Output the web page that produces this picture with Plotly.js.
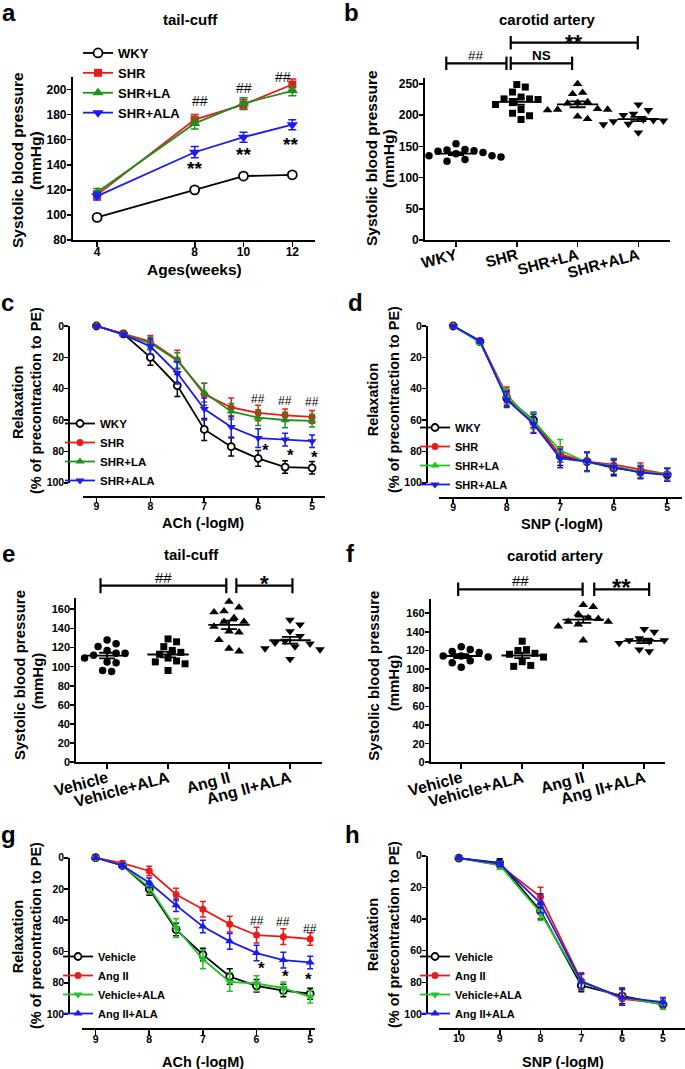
<!DOCTYPE html>
<html><head><meta charset="utf-8">
<script src="https://cdn.plot.ly/plotly-3.0.1.min.js"></script>
<style>html,body{margin:0;padding:0;background:#fff}#chart{width:685px;height:1069px}</style>
</head><body><div id="chart"></div>
<script>
// ================= DATA =================
// a: tail-cuff SBP by age
const agesA = [4, 8, 10, 12];
const wkyA = [98, 120, 131, 132];
const wkyAErr = [2.5, 2, 2, 2];
const shrA = [116, 176, 188, 204];
const shrAErr = [3, 4, 4, 4.5];
const shrLaA = [118, 173, 189, 199];
const shrLaAErr = [3, 4.5, 4.5, 4];
const shrAlaA = [115, 150, 162, 172];
const shrAlaAErr = [3, 4.5, 4, 4];
const yTicksA = [80, 100, 120, 140, 160, 180, 200];

// b: carotid artery SBP (individual animals)
const catsB = ['WKY', 'SHR', 'SHR+LA', 'SHR+ALA'];
const wkyB = [154, 145, 144, 143, 142, 140, 138, 135, 135, 133, 133, 129, 126];
const shrB = [249, 245, 237, 229, 226, 226, 225, 220, 217, 209, 203, 199, 193];
const shrLaB = [250, 236, 234, 221, 220, 219, 210, 209, 209, 208, 198, 194];
const shrAlaB = [217, 208, 202, 200, 193, 192, 191, 190, 188, 186, 185, 172];
const yTicksB = [0, 50, 100, 150, 200, 250];

// c: ACh relaxation, SHR groups
const dosesC = [9, 8.5, 8, 7.5, 7, 6.5, 6, 5.5, 5];
const wkyC = [0, 5, 20, 38, 66, 77, 84.5, 90, 90.5];
const wkyCErr = [1, 1, 5, 7, 7, 6, 5, 4, 4];
const shrC = [0, 5, 10, 21.5, 43.5, 52, 55.5, 57, 58];
const shrCErr = [1, 1, 4, 6, 7, 6, 5, 4, 4];
const shrLaC = [0, 5.5, 11, 22, 42.5, 54.5, 58.5, 60, 60.5];
const shrLaCErr = [1, 1, 4, 5, 6, 5, 5, 5, 4];
const shrAlaC = [0, 5.5, 13, 30, 53, 64.5, 71.5, 72.5, 73.5];
const shrAlaCErr = [1, 1, 5, 7, 7, 7, 6, 4, 4];

// d: SNP relaxation, SHR groups
const dosesD = [9, 8.5, 8, 7.5, 7, 6.5, 6, 5.5, 5];
const wkyD = [0, 10, 46, 60, 83, 86.5, 90.5, 93, 95];
const wkyDErr = [1, 1.5, 5, 5, 6, 6, 5, 4, 4];
const shrD = [0, 9.5, 44, 62, 82, 86.5, 88.5, 91.5, 94.5];
const shrDErr = [1, 1.5, 5, 6, 5, 6, 4, 4, 4];
const shrLaD = [0, 10.5, 45, 60.5, 79.5, 87, 89.5, 93, 94.5];
const shrLaDErr = [1, 1.5, 5, 5, 7, 6, 5, 4, 4];
const shrAlaD = [0, 9.5, 47, 62.5, 84.5, 86.5, 90, 93.5, 95];
const shrAlaDErr = [1, 1.5, 5, 6, 6, 6, 5, 4, 4];
const xTicksLog = [9, 8, 7, 6, 5];
const yTicksRel = [0, 20, 40, 60, 80, 100];

// e: tail-cuff SBP, Ang II model
const catsE = ['Vehicle', 'Vehicle+ALA', 'Ang II', 'Ang II+ALA'];
const vehE = [128, 124, 121, 117, 114, 114, 112, 109, 105, 104, 96, 95];
const vehAlaE = [129, 126, 121, 117, 115, 113, 109, 106, 105, 103, 96];
const angE = [168, 162, 158, 157, 151, 147, 147, 142, 137, 136, 128, 119, 116];
const angAlaE = [149, 144, 137, 132, 127, 125, 124, 121, 119, 118, 108];
const yTicksEF = [0, 20, 40, 60, 80, 100, 120, 140, 160];

// f: carotid artery SBP, Ang II model
const vehF = [124, 121, 119, 118, 114, 114, 113, 109, 107, 102];
const vehAlaF = [130, 121, 120, 117, 116, 113, 108, 104, 103];
const angF = [169, 167, 159, 155, 154, 151, 151, 148, 146, 131];
const angAlaF = [143, 140, 133, 131, 131, 130, 128, 127, 121, 119];

// g: ACh relaxation, Ang II model
const dosesG = [9, 8.5, 8, 7.5, 7, 6.5, 6, 5.5, 5];
const vehG = [0, 5, 20, 46, 62, 76, 82, 85, 87];
const vehGErr = [1, 1.5, 4, 4, 4, 5, 4, 4, 3.5];
const angG = [0, 3.5, 8.5, 23.5, 33, 42.5, 49.5, 50.5, 52];
const angGErr = [1, 1.5, 3, 4, 5, 5, 5, 5, 4];
const vehAlaG = [0, 5, 19, 45, 65, 79.5, 80.5, 83.5, 89];
const vehAlaGErr = [1, 1.5, 4, 6, 6, 6, 5, 4, 4];
const angAlaG = [0, 5, 16, 30.5, 44, 53.5, 61, 65.5, 67];
const angAlaGErr = [1, 1.5, 3, 4, 4, 5, 5, 5, 4];

// h: SNP relaxation, Ang II model
const dosesH = [10, 9, 8, 7, 6, 5];
const vehH = [1.5, 4.5, 35, 82, 88.5, 94];
const vehHErr = [1, 2.5, 5, 4, 5, 3];
const angH = [1.5, 6, 26, 79, 90.5, 93.5];
const angHErr = [1, 2.5, 6, 5, 4, 3];
const vehAlaH = [1.5, 6, 36, 80, 89.5, 94];
const vehAlaHErr = [1, 2.5, 5, 5, 5, 3];
const angAlaH = [1.5, 5, 30, 79.5, 89.5, 92.5];
const angAlaHErr = [1, 2, 6, 5, 5, 3];
const xTicksH = [10, 9, 8, 7, 6, 5];

// ================= LAYOUT HELPERS =================
const W = 685, H = 1069;
const fx = p => p / W, fy = p => 1 - p / H;
const F = 'Liberation Sans, Arial, Helvetica, sans-serif';
const BLACK = '#000000', RED = '#ee1a1a', GREEN_A = '#1f8f1f', GREEN = '#22c322', BLUE = '#1a1af2';

function ax(extra, fs) {
  return Object.assign({
    showline: true, linecolor: BLACK, linewidth: 1.8, mirror: false,
    ticks: 'outside', ticklen: 5, tickwidth: 1.6, tickcolor: BLACK,
    showgrid: false, zeroline: false, fixedrange: true, tickmode: 'array',
    tickfont: {family: F, size: fs || 12, color: BLACK, weight: 'bold'}
  }, extra);
}

function lineTrace(x, y, err, name, color, symbol, xa, ya, legend, o) {
  const open = symbol === 'open';
  return {
    type: 'scatter', mode: 'lines+markers', x: x, y: y, name: name,
    xaxis: xa, yaxis: ya, legend: legend, showlegend: true, cliponaxis: false,
    line: {color: color, width: o.lw},
    marker: {symbol: open ? 'circle' : symbol, size: o.ms, color: open ? '#ffffff' : color,
             line: {color: color, width: open ? 1.8 : 0}},
    error_y: {type: 'data', array: err, visible: true, color: color, thickness: 1.5, width: o.ew}
  };
}

function swarm(vals, pyv, d) {
  const order = vals.map((_, i) => i).sort((a, b) => vals[b] - vals[a]);
  const placed = [], off = vals.map(() => 0);
  order.forEach(i => {
    const y = vals[i] * pyv;
    for (let k = 0; k < 80; k++) {
      const s = k === 0 ? 0 : (k % 2 ? 1 : -1) * Math.ceil(k / 2);
      const x = s * d * 0.5;
      if (placed.every(p => (p.x - x) * (p.x - x) + (p.y - y) * (p.y - y) >= d * d)) {
        off[i] = x; placed.push({x: x, y: y}); break;
      }
    }
  });
  return off;
}
const mean = a => a.reduce((s, v) => s + v, 0) / a.length;
const sem = a => { const m = mean(a); return Math.sqrt(a.reduce((s, v) => s + (v - m) * (v - m), 0) / (a.length - 1)) / Math.sqrt(a.length); };

function dotPanel(groups, xa, ya, pyv, pxc) {
  const syms = ['circle', 'square', 'triangle-up', 'triangle-down'];
  const sizes = [7.5, 7, 8.5, 8.5];
  const out = [];
  groups.forEach((vals, i) => {
    const off = swarm(vals, pyv, sizes[i] + 1.5);
    out.push({type: 'scatter', mode: 'markers', x: vals.map((v, j) => i + off[j] / pxc), y: vals,
      xaxis: xa, yaxis: ya, showlegend: false, cliponaxis: false, hoverinfo: 'skip',
      marker: {symbol: syms[i], size: sizes[i], color: BLACK}});
    const m = mean(vals), s = sem(vals);
    out.push({type: 'scatter', mode: 'lines', x: [i - 0.34, i + 0.34], y: [m, m], xaxis: xa, yaxis: ya,
      showlegend: false, cliponaxis: false, line: {color: BLACK, width: 1.8}, hoverinfo: 'skip'});
    out.push({type: 'scatter', mode: 'markers', x: [i], y: [m], xaxis: xa, yaxis: ya, showlegend: false,
      cliponaxis: false, marker: {size: 1, color: 'rgba(0,0,0,0)'}, hoverinfo: 'skip',
      error_y: {type: 'data', array: [s], visible: true, color: BLACK, thickness: 1.8, width: 8}});
  });
  return out;
}

// ================= GEOMETRY (px) =================
const G = {
  a: {x: [72.7, 315], y: [77, 240], xr: [3, 12.93], yr: [80, 210]},
  b: {x: [425, 670], y: [78.3, 240], xr: [-0.51, 3.52], yr: [0, 259]},
  c: {x: [83, 325], y: [326, 482.7], xr: [9.25, 4.76], yr: [100, 0], xpos: 496, ypos: 68.3},
  d: {x: [439.3, 681.7], y: [326, 482.7], xr: [9.26, 4.73], yr: [100, 0], xpos: 496.7, ypos: 426},
  e: {x: [76, 321.7], y: [598.3, 762.3], xr: [-0.51, 3.52], yr: [0, 171.5]},
  f: {x: [430.7, 665], y: [599.3, 762.3], xr: [-0.5, 3.34], yr: [0, 175]},
  g: {x: [81.7, 315], y: [857.7, 1014], xr: [9.26, 4.91], yr: [100, 0], xpos: 1028.3, ypos: 68.3},
  h: {x: [439.3, 685], y: [855.7, 1014], xr: [10.48, 4.46], yr: [100, 0], xpos: 1027.7, ypos: 426}
};
const dom = g => ({x: [fx(g.x[0]), fx(g.x[1])], y: [fy(g.y[1]), fy(g.y[0])]});
const pyv = g => (g.y[1] - g.y[0]) / Math.abs(g.yr[1] - g.yr[0]);
const pxc = g => (g.x[1] - g.x[0]) / Math.abs(g.xr[1] - g.xr[0]);

// ================= TRACES =================
let traces = [];
const oA = {lw: 1.8, ms: 9, ew: 4};
traces.push(lineTrace(agesA, wkyA, wkyAErr, 'WKY', BLACK, 'open', 'x', 'y', 'legend', oA));
traces.push(lineTrace(agesA, shrA, shrAErr, 'SHR', RED, 'square', 'x', 'y', 'legend', Object.assign({}, oA, {ms: 8})));
traces.push(lineTrace(agesA, shrLaA, shrLaAErr, 'SHR+LA', GREEN_A, 'triangle-up', 'x', 'y', 'legend', Object.assign({}, oA, {ms: 10})));
traces.push(lineTrace(agesA, shrAlaA, shrAlaAErr, 'SHR+ALA', BLUE, 'triangle-down', 'x', 'y', 'legend', Object.assign({}, oA, {ms: 10})));

traces = traces.concat(dotPanel([wkyB, shrB, shrLaB, shrAlaB], 'x2', 'y2', pyv(G.b), pxc(G.b)));

const oC = {lw: 1.8, ms: 7, ew: 3};
traces.push(lineTrace(dosesC, wkyC, wkyCErr, 'WKY', BLACK, 'open', 'x3', 'y3', 'legend2', oC));
traces.push(lineTrace(dosesC, shrC, shrCErr, 'SHR', RED, 'circle', 'x3', 'y3', 'legend2', oC));
traces.push(lineTrace(dosesC, shrLaC, shrLaCErr, 'SHR+LA', GREEN_A, 'triangle-up', 'x3', 'y3', 'legend2', Object.assign({}, oC, {ms: 8})));
traces.push(lineTrace(dosesC, shrAlaC, shrAlaCErr, 'SHR+ALA', BLUE, 'triangle-down', 'x3', 'y3', 'legend2', Object.assign({}, oC, {ms: 8})));

traces.push(lineTrace(dosesD, wkyD, wkyDErr, 'WKY', BLACK, 'open', 'x4', 'y4', 'legend3', oC));
traces.push(lineTrace(dosesD, shrD, shrDErr, 'SHR', RED, 'circle', 'x4', 'y4', 'legend3', oC));
traces.push(lineTrace(dosesD, shrLaD, shrLaDErr, 'SHR+LA', GREEN, 'triangle-up', 'x4', 'y4', 'legend3', Object.assign({}, oC, {ms: 8})));
traces.push(lineTrace(dosesD, shrAlaD, shrAlaDErr, 'SHR+ALA', BLUE, 'triangle-down', 'x4', 'y4', 'legend3', Object.assign({}, oC, {ms: 8})));

traces = traces.concat(dotPanel([vehE, vehAlaE, angE, angAlaE], 'x5', 'y5', pyv(G.e), pxc(G.e)));
traces = traces.concat(dotPanel([vehF, vehAlaF, angF, angAlaF], 'x6', 'y6', pyv(G.f), pxc(G.f)));

traces.push(lineTrace(dosesG, vehG, vehGErr, 'Vehicle', BLACK, 'open', 'x7', 'y7', 'legend4', oC));
traces.push(lineTrace(dosesG, angG, angGErr, 'Ang II', RED, 'circle', 'x7', 'y7', 'legend4', oC));
traces.push(lineTrace(dosesG, vehAlaG, vehAlaGErr, 'Vehicle+ALA', GREEN, 'triangle-down', 'x7', 'y7', 'legend4', Object.assign({}, oC, {ms: 8})));
traces.push(lineTrace(dosesG, angAlaG, angAlaGErr, 'Ang II+ALA', BLUE, 'triangle-up', 'x7', 'y7', 'legend4', Object.assign({}, oC, {ms: 8})));

traces.push(lineTrace(dosesH, vehH, vehHErr, 'Vehicle', BLACK, 'open', 'x8', 'y8', 'legend5', oC));
traces.push(lineTrace(dosesH, angH, angHErr, 'Ang II', RED, 'circle', 'x8', 'y8', 'legend5', oC));
traces.push(lineTrace(dosesH, vehAlaH, vehAlaHErr, 'Vehicle+ALA', GREEN, 'triangle-down', 'x8', 'y8', 'legend5', Object.assign({}, oC, {ms: 8})));
traces.push(lineTrace(dosesH, angAlaH, angAlaHErr, 'Ang II+ALA', BLUE, 'triangle-up', 'x8', 'y8', 'legend5', Object.assign({}, oC, {ms: 8})));

// ================= AXES =================
const XS = -5, YS = -2, RS = -6;   // tick-label standoffs (px)
const layout = {
  width: W, height: H, margin: {l: 0, r: 0, t: 0, b: 0},
  paper_bgcolor: '#ffffff', plot_bgcolor: 'rgba(0,0,0,0)',
  font: {family: F, color: BLACK}, hovermode: false,
  xaxis: ax({domain: dom(G.a).x, range: G.a.xr, tickvals: agesA, anchor: 'y', ticklabelstandoff: XS}, 12),
  yaxis: ax({domain: dom(G.a).y, range: G.a.yr, tickvals: yTicksA, anchor: 'x', ticklen: 4, ticklabelstandoff: YS}, 12),
  xaxis2: ax({domain: dom(G.b).x, range: G.b.xr, tickvals: [0, 1, 2, 3], ticktext: catsB, tickangle: -15, anchor: 'y2', ticklabelstandoff: RS}, 15.5),
  yaxis2: ax({domain: dom(G.b).y, range: G.b.yr, tickvals: yTicksB, anchor: 'x2', ticklen: 4, ticklabelstandoff: YS}, 12),
  xaxis3: ax({domain: dom(G.c).x, range: G.c.xr, tickvals: xTicksLog, anchor: 'free', position: fy(G.c.xpos), ticklabelstandoff: XS}, 10.5),
  yaxis3: ax({domain: dom(G.c).y, range: G.c.yr, tickvals: yTicksRel, anchor: 'free', position: fx(G.c.ypos), ticklen: 4, ticklabelstandoff: YS}, 10.5),
  xaxis4: ax({domain: dom(G.d).x, range: G.d.xr, tickvals: xTicksLog, anchor: 'free', position: fy(G.d.xpos), ticklabelstandoff: XS}, 10.5),
  yaxis4: ax({domain: dom(G.d).y, range: G.d.yr, tickvals: yTicksRel, anchor: 'free', position: fx(G.d.ypos), ticklen: 4, ticklabelstandoff: YS}, 10.5),
  xaxis5: ax({domain: dom(G.e).x, range: G.e.xr, tickvals: [0, 1, 2, 3], ticktext: catsE, tickangle: -15, anchor: 'y5', ticklabelstandoff: RS}, 16),
  yaxis5: ax({domain: dom(G.e).y, range: G.e.yr, tickvals: yTicksEF, anchor: 'x5', ticklen: 4, ticklabelstandoff: YS}, 11),
  xaxis6: ax({domain: dom(G.f).x, range: G.f.xr, tickvals: [0, 1, 2, 3], ticktext: catsE, tickangle: -15, anchor: 'y6', ticklabelstandoff: RS}, 16),
  yaxis6: ax({domain: dom(G.f).y, range: G.f.yr, tickvals: yTicksEF, anchor: 'x6', ticklen: 4, ticklabelstandoff: YS}, 11),
  xaxis7: ax({domain: dom(G.g).x, range: G.g.xr, tickvals: xTicksLog, anchor: 'free', position: fy(G.g.xpos), ticklabelstandoff: XS}, 10.5),
  yaxis7: ax({domain: dom(G.g).y, range: G.g.yr, tickvals: yTicksRel, anchor: 'free', position: fx(G.g.ypos), ticklen: 4, ticklabelstandoff: YS}, 10.5),
  xaxis8: ax({domain: dom(G.h).x, range: G.h.xr, tickvals: xTicksH, anchor: 'free', position: fy(G.h.xpos), ticklabelstandoff: XS}, 10.5),
  yaxis8: ax({domain: dom(G.h).y, range: G.h.yr, tickvals: yTicksRel, anchor: 'free', position: fx(G.h.ypos), ticklen: 4, ticklabelstandoff: YS}, 10.5),
};

// ================= LEGENDS =================
function leg(xp, yp, yanchor, fs) {
  return {x: fx(xp), y: fy(yp), xanchor: 'left', yanchor: yanchor, bgcolor: 'rgba(0,0,0,0)',
          borderwidth: 0, itemwidth: 30, tracegroupgap: 0, traceorder: 'normal',
          font: {family: F, size: fs, color: BLACK, weight: 'bold'}, itemclick: false, itemdoubleclick: false};
}
layout.legend = leg(78, 38, 'top', 13);
layout.legend2 = leg(60, 495, 'bottom', 11.5);
layout.legend3 = leg(415, 499, 'bottom', 11);
layout.legend4 = leg(58, 1028, 'bottom', 11);
layout.legend5 = leg(415, 1028, 'bottom', 11);

// ================= TEXT =================
const ann = [];
function txt(text, x, y, size, opts) {
  ann.push(Object.assign({text: text, x: fx(x), y: fy(y), xref: 'paper', yref: 'paper', showarrow: false,
    xanchor: 'center', yanchor: 'middle', font: {family: F, size: size, color: BLACK, weight: 'bold'}}, opts || {}));
}
function dtxt(text, x, y, xr, yr, size, weight) {
  ann.push({text: text, x: x, y: y, xref: xr, yref: yr, showarrow: false, xanchor: 'center', yanchor: 'middle',
    font: {family: F, size: size, color: BLACK, weight: weight || 'bold'}});
}
function ptxt(text, x, ypx, xr, size, weight) {
  ann.push({text: text, x: x, y: fy(ypx), xref: xr, yref: 'paper', showarrow: false, xanchor: 'center', yanchor: 'middle',
    font: {family: F, size: size, color: BLACK, weight: weight || 'bold'}});
}
// panel letters
[['a', 9.2, 12.5], ['b', 351.7, 12.5], ['c', 8, 302.5], ['d', 355.5, 302.5],
 ['e', 8.3, 553.3], ['f', 350, 553.3], ['g', 8.3, 834.6], ['h', 352.5, 834.6]].forEach(l => txt(l[0], l[1], l[2], 24));
// titles
txt('tail-cuff', 190, 19, 15);
txt('carotid artery', 547, 19, 15);
txt('tail-cuff', 191.7, 554, 15);
txt('carotid artery', 555.8, 555, 15);
// y titles
const rot = {textangle: -90};
txt('Systolic blood pressure', 17, 160, 15.5, rot); txt('(mmHg)', 35, 161, 15.5, rot);
txt('Systolic blood pressure', 371.7, 158.3, 15.5, rot); txt('(mmHg)', 389, 159, 15.5, rot);
txt('Relaxation', 18, 403, 14.5, rot); txt('(% of precontraction to PE)', 36, 401, 14.5, rot);
txt('Relaxation', 373.3, 400, 14.5, rot); txt('(% of precontraction to PE)', 394, 400, 14.5, rot);
txt('Systolic blood pressure', 19, 675, 15, rot); txt('(mmHg)', 37.3, 681, 15, rot);
txt('Systolic blood pressure', 374, 675.7, 15, rot); txt('(mmHg)', 393.3, 683, 15, rot);
txt('Relaxation', 17.5, 936.7, 14.5, rot); txt('(% of precontraction to PE)', 36, 936, 14.5, rot);
txt('Relaxation', 373.3, 935, 14.5, rot); txt('(% of precontraction to PE)', 394, 935, 14.5, rot);
// x titles
txt('Ages(weeks)', 194, 269, 15.5);
txt('ACh (-logM)', 202.8, 523, 14.5);
txt('SNP (-logM)', 562, 524, 14.5);
txt('ACh (-logM)', 203, 1061.5, 14.5);
txt('SNP (-logM)', 562.5, 1061.5, 14.5);

// significance marks (a, c, g)
dtxt('##', 8.2, 191, 'x', 'y', 14, 'normal'); dtxt('##', 10, 201, 'x', 'y', 14, 'normal'); dtxt('##', 11.6, 210, 'x', 'y', 14, 'normal');
dtxt('**', 8, 136.7, 'x', 'y', 19); dtxt('**', 10, 147.8, 'x', 'y', 19); dtxt('**', 11.94, 155.8, 'x', 'y', 19);
dtxt('##', 6, 46.8, 'x3', 'y3', 12, 'normal'); dtxt('##', 5.5, 47.7, 'x3', 'y3', 12, 'normal'); dtxt('##', 5, 48.3, 'x3', 'y3', 12, 'normal');
dtxt('*', 5.86, 79.4, 'x3', 'y3', 17); dtxt('*', 5.4, 82.6, 'x3', 'y3', 17); dtxt('*', 4.96, 84.1, 'x3', 'y3', 17);
dtxt('##', 6, 40.5, 'x7', 'y7', 12, 'normal'); dtxt('##', 5.5, 41, 'x7', 'y7', 12, 'normal'); dtxt('##', 5, 45.8, 'x7', 'y7', 12, 'normal');
dtxt('*', 5.91, 71, 'x7', 'y7', 17); dtxt('*', 5.46, 76.3, 'x7', 'y7', 17); dtxt('*', 5.03, 77.9, 'x7', 'y7', 17);

// brackets (b, e, f)
const shapes = [];
function bracket(xr, x0, x1, ypx, tick, label, lsize, lypx, lweight) {
  const ln = {color: BLACK, width: 2.2};
  shapes.push({type: 'line', xref: xr, yref: 'paper', x0: x0, x1: x1, y0: fy(ypx), y1: fy(ypx), line: ln});
  shapes.push({type: 'line', xref: xr, yref: 'paper', x0: x0, x1: x0, y0: fy(ypx - tick), y1: fy(ypx + tick), line: ln});
  shapes.push({type: 'line', xref: xr, yref: 'paper', x0: x1, x1: x1, y0: fy(ypx - tick), y1: fy(ypx + tick), line: ln});
  ptxt(label, (x0 + x1) / 2, lypx, xr, lsize, lweight);
}
bracket('x2', -0.16, 0.83, 63.3, 6.7, '##', 13.5, 55, 'normal');
bracket('x2', 0.9, 1.91, 63.3, 6.7, 'NS', 13.5, 55, 'bold');
bracket('x2', 0.9, 2.99, 42.7, 6.7, '**', 22, 42.3, 'bold');
bracket('x5', -0.108, 1.955, 585.7, 7.5, '##', 15, 577.7, 'normal');
bracket('x5', 2.12, 3.04, 585.7, 7.5, '*', 22, 583.8, 'bold');
bracket('x6', -0.05, 1.99, 589.3, 6.7, '##', 15, 580.5, 'normal');
bracket('x6', 2.18, 3.08, 589.3, 6.7, '**', 24, 587.8, 'bold');

layout.annotations = ann;
layout.shapes = shapes;

Plotly.newPlot('chart', traces, layout, {displayModeBar: false, staticPlot: true});
</script>
</body></html>
